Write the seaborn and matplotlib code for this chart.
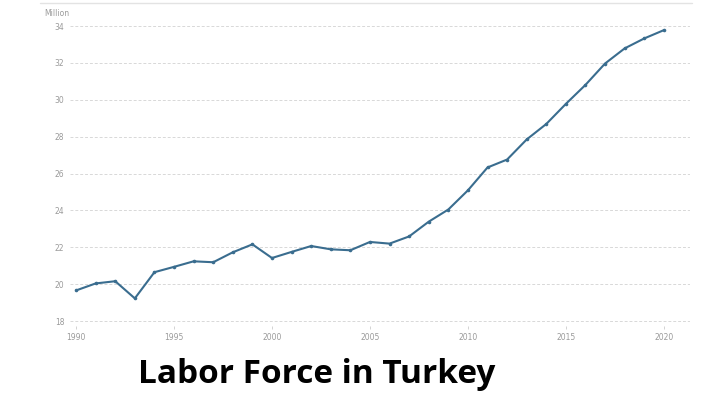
import matplotlib
matplotlib.use("Agg")
import matplotlib.pyplot as plt
import seaborn as sns
import pandas as pd
from matplotlib.lines import Line2D

years = list(range(1990, 2021))
labor_force = [19.66, 20.04, 20.16, 19.23, 20.65, 20.94, 21.24, 21.19, 21.73, 22.16,
               21.42, 21.75, 22.07, 21.89, 21.84, 22.29, 22.20, 22.59, 23.39, 24.05,
               25.09, 26.33, 26.76, 27.85, 28.69, 29.78, 30.81, 31.97, 32.79, 33.33,
               33.78]
y_ticks = [18, 20, 22, 24, 26, 28, 30, 32, 34]
x_ticks = [1990, 1995, 2000, 2005, 2010, 2015, 2020]
unit_label = "Million"
title = "Labor Force in Turkey"

df = pd.DataFrame({"year": years, "value": labor_force})

sns.set_style("white")
fig = plt.figure(figsize=(7.2, 4.05), dpi=100)
ax = fig.add_axes([0.0972, 0.195, 0.861, 0.7975])

sns.lineplot(data=df, x="year", y="value", ax=ax, color="#3a6d8f",
             linewidth=1.5, marker="o", markersize=2.6, markeredgewidth=0)

ax.set_xlim(1989.69, 2021.33)
ax.set_ylim(17.73, 35.25)
ax.set_yticks(y_ticks)
ax.set_xticks(x_ticks)
ax.set_xlabel("")
ax.set_ylabel("")
for s in ax.spines.values():
    s.set_visible(False)
ax.grid(axis="y", color="#d8d8d8", linestyle=(0, (3, 2)), linewidth=0.7)
ax.tick_params(axis="y", length=0, labelsize=5.5, labelcolor="#9a9a9a", pad=4)
ax.tick_params(axis="x", length=2, width=0.6, color="#cccccc", labelsize=5.5,
               labelcolor="#9a9a9a", pad=3, bottom=True)

# light top rule
fig.add_artist(Line2D([40 / 720, 692 / 720], [1 - 3 / 405, 1 - 3 / 405],
                      color="#e3e3e3", linewidth=1))
fig.text(44 / 720, 1 - 14 / 405, unit_label, fontsize=5.5, color="#9a9a9a",
         va="center", ha="left")

fig.text(317 / 720, 1 - 383 / 405, title, fontsize=24, fontweight="bold",
         family="Open Sans", color="black", ha="center", va="baseline")

fig.savefig("out.png", dpi=100)
